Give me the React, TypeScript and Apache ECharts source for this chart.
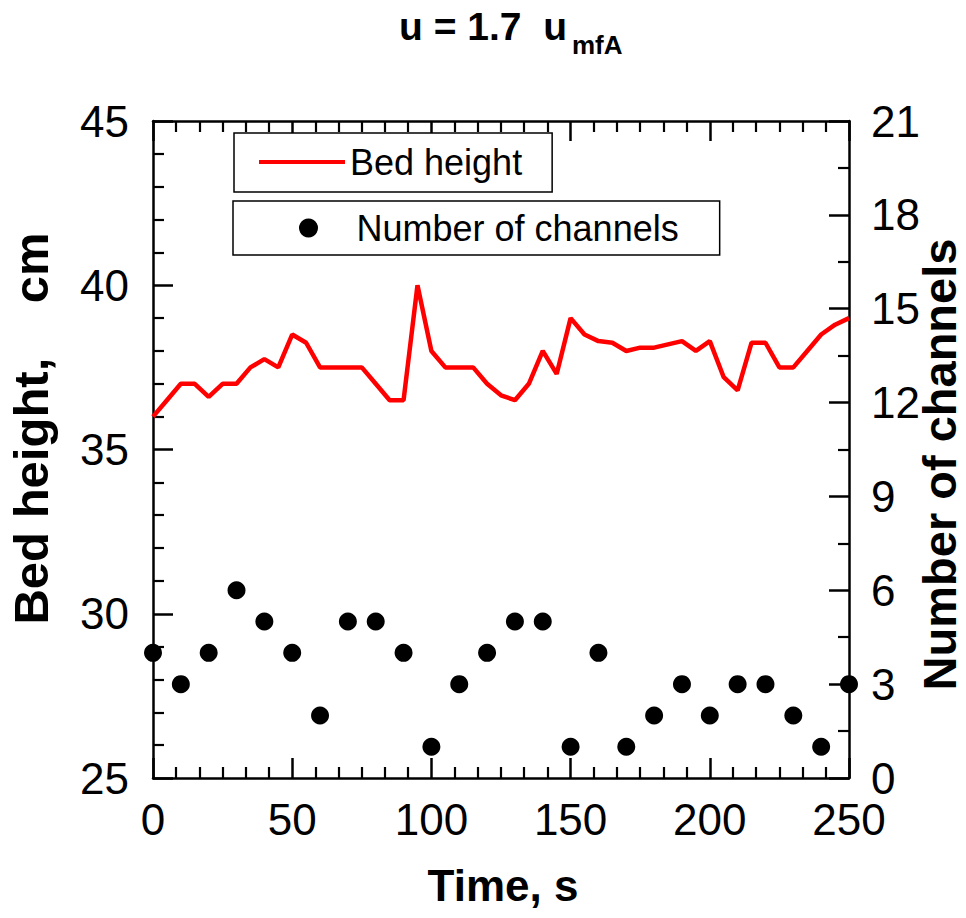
import React, { useEffect, useRef } from "react";
import * as echarts from "echarts";

// Bed height (cm) sampled every 5 s
const bedTimes = [
  0, 5, 10, 15, 20, 25, 30, 35, 40, 45, 50, 55, 60, 65, 70, 75, 80, 85, 90, 95,
  100, 105, 110, 115, 120, 125, 130, 135, 140, 145, 150, 155, 160, 165, 170, 175,
  180, 185, 190, 195, 200, 205, 210, 215, 220, 225, 230, 235, 240, 245, 250,
];
const bedHeight = [
  36.0, 36.5, 37.0, 37.0, 36.6, 37.0, 37.0, 37.5, 37.75, 37.5, 38.5, 38.25, 37.5,
  37.5, 37.5, 37.5, 37.0, 36.5, 36.5, 40.0, 38.0, 37.5, 37.5, 37.5, 37.0, 36.65,
  36.5, 37.0, 38.0, 37.3, 39.0, 38.5, 38.3, 38.25, 38.0, 38.1, 38.1, 38.2, 38.3,
  38.0, 38.3, 37.2, 36.8, 38.25, 38.25, 37.5, 37.5, 38.0, 38.5, 38.8, 39.0,
];

// Number of channels sampled every 10 s
const channelTimes = [
  0, 10, 20, 30, 40, 50, 60, 70, 80, 90, 100, 110, 120, 130, 140, 150, 160, 170,
  180, 190, 200, 210, 220, 230, 240, 250,
];
const channelCounts = [
  4, 3, 4, 6, 5, 4, 2, 5, 5, 4, 1, 3, 4, 5, 5, 1, 4, 1, 2, 3, 2, 3, 3, 2, 1, 3,
];

// Axis ranges / tick steps
const xRange = [0, 250];
const xStep = 50;
const leftRange = [25, 45];
const leftStep = 5;
const rightRange = [0, 21];
const rightStep = 3;

const seriesNames = ["Bed height", "Number of channels"];
const axisTitles = ["Time, s", "Bed height,    cm", "Number of channels"];
const titleMain = "u = 1.7  u";
const titleSub = "mfA";

const FONT = '"Liberation Sans", Arial, Helvetica, sans-serif';

export default function App() {
  const ref = useRef<HTMLDivElement>(null);

  useEffect(() => {
    if (!ref.current) return;
    const chart = echarts.init(ref.current, null, { renderer: "svg" });

    const axisLine = {
      show: true,
      onZero: false,
      lineStyle: { color: "#000", width: 2.5 },
    };
    const tick = (len: number) => ({
      show: true,
      inside: true,
      length: len,
      lineStyle: { color: "#000", width: 2.5 },
    });
    const minor = (n: number) => ({
      show: true,
      splitNumber: n,
      length: 11,
      lineStyle: { color: "#000", width: 2.2 },
    });
    const label = (margin: number) => ({
      show: true,
      color: "#000",
      fontSize: 44,
      fontFamily: FONT,
      margin,
    });
    const nameStyle = (size: number, padding: number[]) => ({
      color: "#000",
      fontSize: size,
      fontWeight: "bold" as const,
      fontFamily: FONT,
      padding,
    });

    chart.setOption({
      animation: false,
      backgroundColor: "#fff",
      grid: {
        left: 153,
        right: 117,
        top: 121,
        bottom: 140,
        containLabel: false,
        outerBoundsMode: "none",
      },
      xAxis: [
        {
          type: "value",
          position: "bottom",
          min: xRange[0],
          max: xRange[1],
          interval: xStep,
          axisLine,
          axisTick: tick(20),
          minorTick: minor(6),
          axisLabel: label(19),
          splitLine: { show: false },
          name: axisTitles[0],
          nameLocation: "middle",
          nameGap: 85,
          nameMoveOverlap: false,
          nameTextStyle: nameStyle(44, [0, 0, 0, 4]),
        },
        {
          type: "value",
          position: "top",
          min: xRange[0],
          max: xRange[1],
          interval: xStep,
          axisLine,
          axisTick: tick(20),
          minorTick: minor(6),
          axisLabel: { show: false },
          splitLine: { show: false },
        },
      ],
      yAxis: [
        {
          type: "value",
          position: "left",
          min: leftRange[0],
          max: leftRange[1],
          interval: leftStep,
          axisLine,
          axisTick: tick(20),
          minorTick: minor(5),
          axisLabel: label(24),
          splitLine: { show: false },
          name: axisTitles[1],
          nameLocation: "middle",
          nameGap: 98,
          nameMoveOverlap: false,
          nameTextStyle: nameStyle(49, [0, 0, 0, 42]),
        },
        {
          type: "value",
          position: "right",
          min: rightRange[0],
          max: rightRange[1],
          interval: rightStep,
          axisLine,
          axisTick: tick(20),
          minorTick: minor(2),
          axisLabel: label(22),
          splitLine: { show: false },
          name: axisTitles[2],
          nameLocation: "middle",
          nameGap: 67,
          nameMoveOverlap: false,
          nameTextStyle: nameStyle(47, [0, 30, 0, 0]),
        },
      ],
      legend: [
        {
          data: [{ name: seriesNames[0], icon: "rect" }],
          left: 234,
          top: 133,
          orient: "horizontal",
          itemWidth: 86,
          itemHeight: 4,
          padding: [11, 30, 12, 25],
          borderColor: "#000",
          borderWidth: 1.5,
          backgroundColor: "#fff",
          selectedMode: false,
          textStyle: { fontSize: 36, color: "#000", fontFamily: FONT },
        },
        {
          data: [{ name: seriesNames[1], icon: "circle" }],
          left: 233,
          top: 201,
          orient: "horizontal",
          itemWidth: 86,
          itemHeight: 19,
          padding: [9, 41, 9, 66],
          borderColor: "#000",
          borderWidth: 1.5,
          backgroundColor: "#fff",
          selectedMode: false,
          textStyle: { fontSize: 36, color: "#000", fontFamily: FONT },
        },
      ],
      graphic: [
        {
          type: "text",
          style: {
            text: titleMain,
            x: 567,
            y: 26,
            align: "right",
            verticalAlign: "middle",
            fontSize: 39,
            fontWeight: "bold",
            fontFamily: FONT,
            fill: "#000",
          },
        },
        {
          type: "text",
          style: {
            text: titleSub,
            x: 572,
            y: 45,
            align: "left",
            verticalAlign: "middle",
            fontSize: 26,
            fontWeight: "bold",
            fontFamily: FONT,
            fill: "#000",
          },
        },
      ],
      series: [
        {
          name: seriesNames[0],
          type: "line",
          xAxisIndex: 0,
          yAxisIndex: 0,
          data: bedTimes.map((t, i) => [t, bedHeight[i]]),
          symbol: "none",
          color: "#ff0000",
          lineStyle: { color: "#ff0000", width: 4.5 },
          z: 3,
        },
        {
          name: seriesNames[1],
          type: "scatter",
          xAxisIndex: 0,
          yAxisIndex: 1,
          data: channelTimes.map((t, i) => [t, channelCounts[i]]),
          symbol: "circle",
          symbolSize: 18,
          color: "#000",
          itemStyle: { color: "#000", opacity: 1 },
          z: 4,
        },
      ],
    });

    return () => chart.dispose();
  }, []);

  return (
    <div
      ref={ref}
      style={{ position: "fixed", left: 0, top: 0, width: 966, height: 918 }}
    />
  );
}
